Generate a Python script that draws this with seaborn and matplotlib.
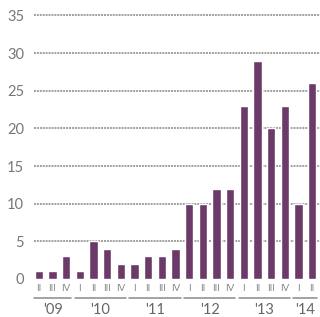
import matplotlib
matplotlib.use("Agg")
import matplotlib.pyplot as plt
import seaborn as sns
import pandas as pd

# quarterly values, 2009 Q2 .. 2014 Q2
years = ["'09", "'10", "'11", "'12", "'13", "'14"]
quarters = [
    ["II", "III", "IV"],
    ["I", "II", "III", "IV"],
    ["I", "II", "III", "IV"],
    ["I", "II", "III", "IV"],
    ["I", "II", "III", "IV"],
    ["I", "II"],
]
values = [1, 1, 3,
          1, 5, 4, 2,
          2, 3, 3, 4,
          10, 10, 12, 12,
          23, 29, 20, 23,
          10, 26]

labels = []
for y, qs in zip(years, quarters):
    for q in qs:
        labels.append(f"{y} {q}")
df = pd.DataFrame({"period": labels, "value": values})

sns.set_style("white")
plt.rcParams["font.family"] = ["Lato", "DejaVu Sans"]

fig = plt.figure(figsize=(3.2, 3.17), dpi=100)
ax = fig.add_axes([0.106, 0.12, 0.894, 0.855])

bar_col = "#6b3a68"
sns.barplot(data=df, x="period", y="value", order=labels, color=bar_col,
            width=0.6, saturation=1, ax=ax, zorder=3)

# dotted gridlines
for v in range(5, 36, 5):
    ax.axhline(v, color="#a0a0a0", lw=1.4, ls=(0, (1, 0.5)), zorder=1)

ax.set_ylim(0, 36)
ax.set_xlim(-0.36, len(values) - 0.42)
ax.set_yticks(range(0, 36, 5))
ax.tick_params(axis="y", length=0, pad=7, labelsize=10.5, labelcolor="#777777")
ax.set_xticks([])
ax.set_xlabel("")
ax.set_ylabel("")
for s in ax.spines.values():
    s.set_visible(False)

# quarter labels, group underlines and year labels
trans = ax.get_xaxis_transform()
i = 0
for y, qs in zip(years, quarters):
    start = i
    for q in qs:
        ax.text(i, -0.034, q, transform=trans, ha="center", va="center",
                fontsize=7, color="#888888", clip_on=False)
        i += 1
    end = i - 1
    ax.plot([start - 0.38, end + 0.38], [-0.072, -0.072], transform=trans,
            color="#8a8a8a", lw=1.1, clip_on=False)
    ax.text((start + end) / 2, -0.114, y, transform=trans, ha="center",
            va="center", fontsize=10.5, color="#666666", clip_on=False)

plt.savefig("out.png", dpi=100)
